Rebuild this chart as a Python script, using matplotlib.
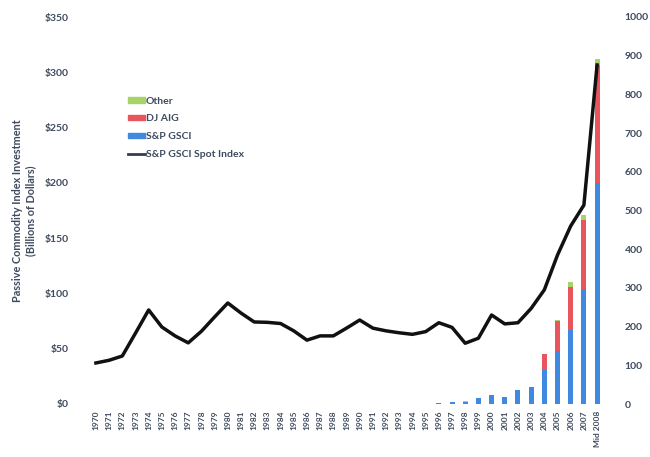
import matplotlib
matplotlib.use("Agg")
import matplotlib.pyplot as plt
import numpy as np
from matplotlib.lines import Line2D
from matplotlib.patches import Patch

plt.rcParams['font.family'] = ['Lato', 'DejaVu Sans']

years = [str(y) for y in range(1970, 2008)] + ["Mid 2008"]
gsci = [0]*26 + [0.5, 1.5, 2, 5, 8, 6, 13, 15, 31, 48, 67, 104, 200]
djaig = [0]*26 + [0, 0, 0, 0, 0, 0, 0, 0, 14, 27, 39, 62, 107]
other = [0]*26 + [0.3, 0.3, 0.3, 0.3, 0, 0, 0, 0, 0.5, 1, 4, 5, 5]
spot = [106, 113, 124, 183, 243, 199, 176, 158, 188, 225, 261, 235, 212, 211,
        208, 189, 165, 176, 176, 196, 217, 196, 189, 184, 180, 187, 210, 198,
        157, 170, 230, 207, 210, 247, 295, 385, 460, 514, 876]

left_ticks = [0, 50, 100, 150, 200, 250, 300, 350]
right_ticks = list(range(0, 1001, 100))

blue = "#3f8ae0"
red = "#e8555c"
green = "#a6d468"
txt = "#3e4a5e"

fig = plt.figure(figsize=(6.5, 4.57), dpi=100)
ax = fig.add_axes([88/650, 53/457, 517/650, 387/457])
x = np.arange(len(years))
w = 0.38
g = np.array(gsci); d = np.array(djaig); o = np.array(other)
ax.bar(x, g, w, color=blue, zorder=2)
ax.bar(x, d, w, bottom=g, color=red, zorder=2)
ax.bar(x, o, w, bottom=g+d, color=green, zorder=2)
ax.set_ylim(0, 350)
ax.set_xlim(-0.6, len(years)-1+0.6)
ax.set_yticks(left_ticks)
ax.set_yticklabels([f"${v}" for v in left_ticks], fontsize=7.5, fontweight='bold', color=txt)
ax.set_xticks(x)
ax.set_xticklabels(years, rotation=90, fontsize=6, fontweight='bold', color=txt, va='top', ha='center')
ax.tick_params(axis='y', length=0, pad=14)
ax.tick_params(axis='x', length=0, pad=5)
for s in ax.spines.values():
    s.set_visible(False)
ax.set_ylabel("Passive Commodity Index Investment\n(Billions of Dollars)", fontsize=7.8,
              fontweight='bold', color=txt, labelpad=6)

ax2 = ax.twinx()
ax2.plot(x, spot, color="#111111", lw=2.5, zorder=3)
ax2.set_ylim(0, 1000)
ax2.set_yticks(right_ticks)
ax2.set_yticklabels([str(v) for v in right_ticks], fontsize=7.5, fontweight='bold', color=txt)
ax2.tick_params(length=0, pad=14)
for s in ax2.spines.values():
    s.set_visible(False)

handles = [Patch(color=green, label="Other"),
           Patch(color=red, label="DJ AIG"),
           Patch(color=blue, label="S&P GSCI"),
           Line2D([0], [0], color="#333d4d", lw=2, label="S&P GSCI Spot Index")]
leg = ax2.legend(handles=handles, loc='upper left', bbox_to_anchor=(0.07, 0.805),
                 frameon=False, fontsize=7.5, handlelength=1.6, handleheight=0.4,
                 handletextpad=0.1, labelspacing=0.85, borderaxespad=0)
for t in leg.get_texts():
    t.set_fontweight('bold'); t.set_color(txt)

fig.savefig("out.png", dpi=100)
